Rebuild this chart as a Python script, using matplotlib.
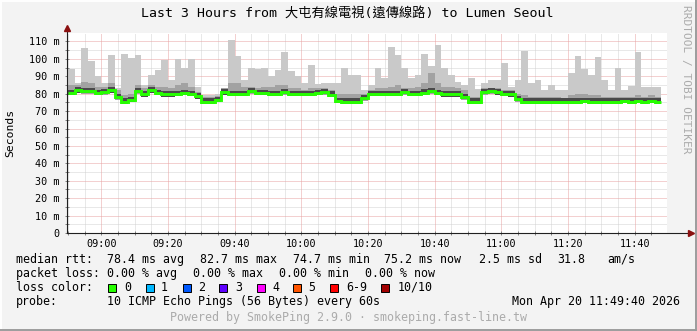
import numpy as np
import matplotlib
matplotlib.use("Agg")
import matplotlib.pyplot as plt
from matplotlib.patches import Rectangle
from matplotlib.lines import Line2D

W, H = 697, 331

# time grid: minutes after 08:00, one bin per 2 minutes
start_min = 50
step_min = 2

# median rtt per bin (ms)
median_rtt = [80.5, 82, 81.7, 81.7, 80.5, 81, 82, 78, 75.5, 76.5,
              81.5, 79.6, 82, 80.5, 79.6, 79.6, 80, 80.5, 80, 78.5,
              75.5, 75.5, 76.5, 80.8, 80, 80, 80, 81.7, 80.6, 80.6,
              80, 80, 81, 80, 79.8, 79.8, 80, 80.6, 81, 79.5,
              76, 75.5, 75.5, 75.5, 77.5, 80, 80, 80, 80, 80,
              81, 80, 80, 80.7, 81.5, 80.5, 79.6, 79.6, 79.6, 78,
              75.5, 75.5, 81, 81.7, 80.8, 80, 79.6, 77, 75.5, 75.5,
              75.5, 75.5, 75.5, 75.5, 75.5, 75.5, 75.5, 76, 75.5, 75.5,
              75.5, 75.5, 75.5, 76, 75.5, 76, 75.5, 76, 75.5]

# highest ping per bin (ms)
ping_max = [94, 86, 106, 98.8, 90, 86, 102, 83, 102.8, 100.3,
            102, 85, 91, 93.6, 99.4, 88, 100, 94.6, 100, 84,
            79, 79, 80, 83, 111, 101.6, 88, 94.6, 94, 94.6,
            90, 93.6, 104, 93, 90, 86, 96.5, 85.6, 86, 86,
            86, 94.6, 90.7, 90.7, 82, 85, 94.6, 89, 107, 102,
            94.6, 89, 90.7, 103, 96, 108, 94.6, 90.7, 87, 85,
            89, 82.7, 86, 88, 88, 97.5, 84, 88, 104.7, 86,
            88, 82, 85, 82, 82, 92, 101.6, 94, 91, 101,
            88, 82, 94.6, 82, 84.6, 104, 84, 84, 84]

# upper part of the dense smoke (ms)
ping_upper = [85, 85, 87, 86, 84, 84, 86, 82, 79, 80,
              85, 83, 85, 84, 84, 83, 85, 86, 84, 81,
              78, 78, 78.5, 83, 86, 86, 84, 84, 83, 84,
              84, 85, 85, 83, 83, 82, 83, 83, 83, 82,
              80, 80, 80, 80, 80, 82, 83, 83, 84, 85,
              83, 83, 84, 86, 92, 86, 84, 84, 83, 82,
              78, 78, 83, 83, 83, 82, 82, 80, 79, 78,
              78, 78, 78, 78, 77.5, 79, 80, 80, 79, 79,
              78, 78, 78, 78, 78, 79, 78, 79, 78]

# lowest ping per bin (ms)
ping_min = [79, 80.5, 80, 80, 79, 79.5, 80.5, 76.5, 74, 75,
            80, 78, 80.5, 79, 78, 78, 78.5, 79, 78.5, 77,
            74, 74, 75, 79.5, 78.5, 78.5, 78.5, 80, 79, 79,
            78.5, 78.5, 79.5, 78.5, 78.5, 78.5, 78.5, 79, 79.5, 78,
            74.5, 74, 74, 74, 76, 78.5, 78.5, 78.5, 78.5, 78.5,
            79.5, 78.5, 78.5, 79, 80, 79, 78, 78, 78, 76.5,
            74, 74, 79.5, 80, 79, 78.5, 78, 75.5, 74, 74,
            74, 74, 74, 74, 74, 74, 74, 74.5, 74, 74,
            74, 74, 74, 74.5, 74, 74.5, 74, 74.5, 74]

xtick_pos = [60, 80, 100, 120, 140, 160, 180, 200, 220]
xtick_labels = ["09:00", "09:20", "09:40", "10:00", "10:20",
                "10:40", "11:00", "11:20", "11:40"]
ytick_vals = [0, 10, 20, 30, 40, 50, 60, 70, 80, 90, 100, 110]
ytick_labels = ["0", "10 m", "20 m", "30 m", "40 m", "50 m", "60 m",
                "70 m", "80 m", "90 m", "100 m", "110 m"]

loss_labels = ["0", "1", "2", "3", "4", "5", "6-9", "10/10"]
loss_colors = ["#26ff00", "#00b8ff", "#0059ff", "#5e00ff",
               "#ff00fe", "#ff5500", "#ff0000", "#a10000"]

MONO = "DejaVu Sans Mono"
CJK = [MONO, "Noto Sans CJK TC"]


def px(x, y):
    return x / W, 1 - y / H


fig = plt.figure(figsize=(W / 100, H / 100), dpi=100)
fig.patch.set_facecolor("#f3f3f3")

ax = fig.add_axes([67 / W, 1 - 233 / H, 600 / W, 200 / H])
ax.set_facecolor("white")

med = np.array(median_rtt)
edges = start_min + step_min * np.arange(len(med) + 1)

ax.stairs(ping_max, edges, baseline=ping_min, fill=True, color="#c9c9c9", zorder=2)
ax.stairs(ping_upper, edges, baseline=ping_min, fill=True, color="#a2a2a2", zorder=3)
ax.stairs(med + 1.8, edges, baseline=med - 1.3, fill=True, color="#4a4a4a", zorder=4)
ax.stairs(med, edges, baseline=None, color="#26ff00", linewidth=2.1, zorder=5)

ax.set_xlim(49 + 40 / 60, 229 + 40 / 60)
ax.set_ylim(0, 200 / 1.741)

# grid
for m in range(50, 230, 5):
    if m % 20 == 0:
        continue
    ax.axvline(m, color="#d2d2d2", lw=0.72, ls=(0, (1, 1)), zorder=1)
for v in range(5, 115, 10):
    ax.axhline(v, color="#d2d2d2", lw=0.72, ls=(0, (1, 1)), zorder=1)
for m in xtick_pos:
    ax.axvline(m, color="#e9a2a2", lw=0.72, ls=(0, (1, 1)), zorder=1)
for v in ytick_vals[1:]:
    ax.axhline(v, color="#e9a2a2", lw=0.72, ls=(0, (1, 1)), zorder=1)

ax.set_xticks(xtick_pos)
ax.set_xticklabels(xtick_labels)
ax.set_xticks(np.arange(50, 230, 5), minor=True)
ax.set_yticks(ytick_vals)
ax.set_yticklabels(ytick_labels)
ax.set_yticks(np.arange(5, 115, 10), minor=True)
ax.tick_params(axis="both", which="both", direction="inout", length=3,
               width=0.7, color="#808080", labelsize=7.3, pad=3)
ax.tick_params(axis="y", pad=4)
for lab in ax.get_xticklabels() + ax.get_yticklabels():
    lab.set_family(MONO)

for s in ax.spines.values():
    s.set_visible(False)

# axis lines with arrows
ax.plot([0, 1.037], [0, 0], color="#202020", lw=0.8, transform=ax.transAxes,
        clip_on=False, zorder=6)
ax.plot([0, 0], [0, 1.02], color="#202020", lw=0.8, transform=ax.transAxes,
        clip_on=False, zorder=6)
ax.plot(1.04, 0, marker=">", ms=4.5, color="#8b1010", mec="#8b1010",
        transform=ax.transAxes, clip_on=False, zorder=7)
ax.plot(0, 1.025, marker="^", ms=4.5, color="#8b1010", mec="#8b1010",
        transform=ax.transAxes, clip_on=False, zorder=7)

# title and side texts
fig.text(*px(347.5, 13), "Last 3 Hours from 大屯有線電視(遠傳線路) to Lumen Seoul",
         ha="center", va="center", fontsize=9.5, family=CJK, color="#000000")
fig.text(*px(10, 133), "Seconds", rotation=90, ha="center", va="center",
         fontsize=8.2, family=MONO)
fig.text(*px(686, 5), "RRDTOOL / TOBI OETIKER", rotation=270, ha="center",
         va="top", fontsize=8, family=MONO, color="#ababab")

# legend rows
fs = 8.4
row1 = [(16, "median rtt:"), (107, "78.4 ms avg"), (200, "82.7 ms max"),
        (293, "74.7 ms min"), (384, "75.2 ms now"), (479, "2.5 ms sd"),
        (557, "31.8"), (607, "am/s")]
for x, t in row1:
    fig.text(*px(x, 259.5), t, ha="left", va="center", fontsize=fs, family=MONO)

row2 = [(16, "packet loss:"), (107, "0.00 % avg"), (193, "0.00 % max"),
        (279, "0.00 % min"), (365, "0.00 % now")]
for x, t in row2:
    fig.text(*px(x, 273.5), t, ha="left", va="center", fontsize=fs, family=MONO)

fig.text(*px(16, 287.5), "loss color:", ha="left", va="center", fontsize=fs, family=MONO)
box_x = [108, 146, 183, 219, 257, 293, 330, 381]
lab_x = [124, 161, 198, 235, 272, 308, 346, 398]
for bx, lx, lab, col in zip(box_x, lab_x, loss_labels, loss_colors):
    x0, y0 = px(bx, 291.5)
    fig.add_artist(Rectangle((x0, y0), 8 / W, 8 / H, transform=fig.transFigure,
                             facecolor=col, edgecolor="#000000", lw=0.7))
    fig.text(*px(lx, 287.5), lab, ha="left", va="center", fontsize=fs, family=MONO)

fig.text(*px(16, 301.7), "probe:", ha="left", va="center", fontsize=fs, family=MONO)
fig.text(*px(107, 301.7), "10 ICMP Echo Pings (56 Bytes) every 60s",
         ha="left", va="center", fontsize=fs, family=MONO)
fig.text(*px(680, 301.7), "Mon Apr 20 11:49:40 2026", ha="right", va="center",
         fontsize=fs, family=MONO)

fig.text(*px(348.5, 318), "Powered by SmokePing 2.9.0 · smokeping.fast-line.tw",
         ha="center", va="center", fontsize=fs, family=MONO, color="#ababab")

# 3d frame around the image
fig.add_artist(Line2D([0, 1], [1 - 0.5 / H, 1 - 0.5 / H], color="#ffffff", lw=1.4,
                      transform=fig.transFigure))
fig.add_artist(Line2D([0.5 / W, 0.5 / W], [0, 1], color="#ffffff", lw=1.4,
                      transform=fig.transFigure))
fig.add_artist(Line2D([0, 1], [1 / H, 1 / H], color="#9c9c9c", lw=1.4,
                      transform=fig.transFigure))
fig.add_artist(Line2D([1 - 1 / W, 1 - 1 / W], [0, 1], color="#9c9c9c", lw=1.4,
                      transform=fig.transFigure))

fig.savefig("out.png", dpi=100, facecolor=fig.get_facecolor())
